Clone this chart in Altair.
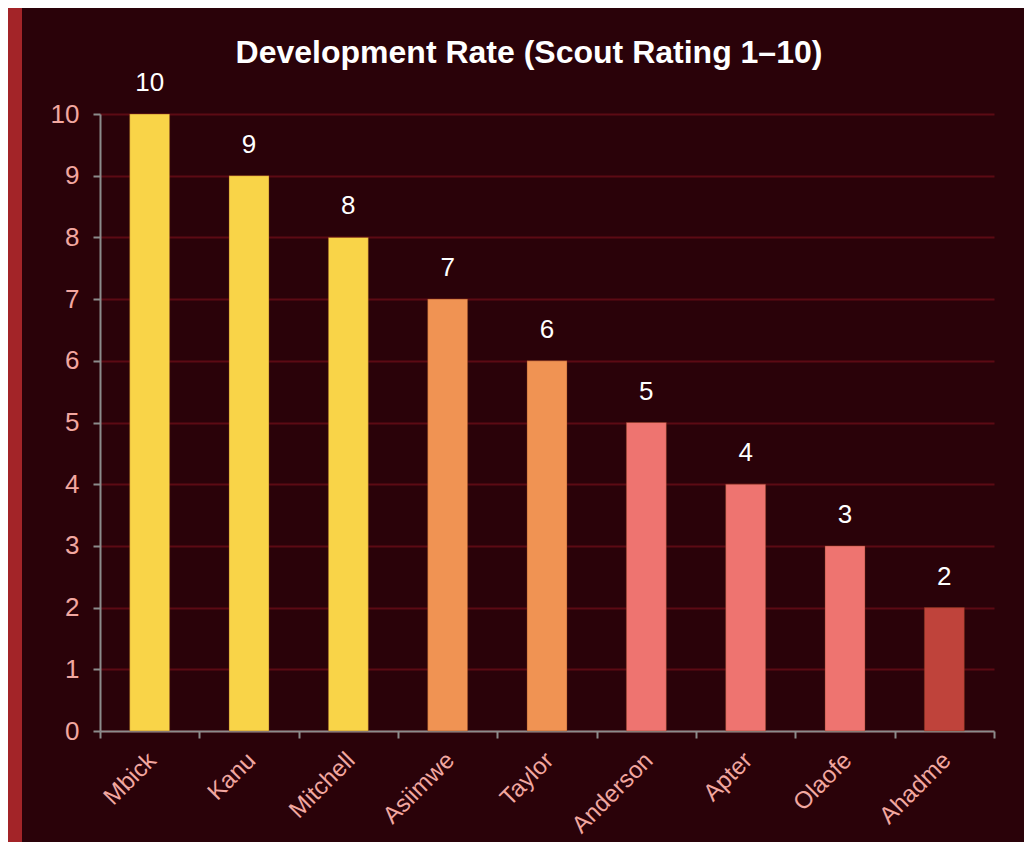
import altair as alt
import pandas as pd

players = ["Mbick", "Kanu", "Mitchell", "Asiimwe", "Taylor", "Anderson", "Apter", "Olaofe", "Ahadme"]
ratings = [10, 9, 8, 7, 6, 5, 4, 3, 2]
colors = ["#f9d448", "#f9d448", "#f9d448", "#f09353", "#f09353", "#ee7470", "#ee7470", "#ee7470", "#bf433b"]
y_ticks = [0, 1, 2, 3, 4, 5, 6, 7, 8, 9, 10]

df = pd.DataFrame({"player": players, "rating": ratings, "color": colors})

BG = "#2a0209"
RED = "#a32428"
GRID = "#5c0a14"
AXIS = "#8c8c8c"
LABEL = "#f2a7a0"
FONT = "Liberation Sans"

W, H = 894, 617

band = alt.Chart(pd.DataFrame({"k": [0]})).mark_rect(color=RED).encode(
    x=alt.value(-100), x2=alt.value(-78), y=alt.value(-106), y2=alt.value(728)
)

x_enc = alt.X(
    "player:N", sort=players, title=None,
    scale=alt.Scale(paddingInner=0, paddingOuter=0),
    axis=alt.Axis(
        labelAngle=-45, labelColor=LABEL, labelFont=FONT, labelFontSize=24,
        labelAlign="right", labelBaseline="top", labelPadding=10, labelOffset=-6,
        domainColor=AXIS, domainWidth=2, tickColor=AXIS, tickWidth=2, tickSize=7,
        tickBand="extent", grid=False,
    ),
)
y_enc = alt.Y(
    "rating:Q", title=None,
    scale=alt.Scale(domain=[0, 10], nice=False),
    axis=alt.Axis(
        values=y_ticks, format="d", labelColor=LABEL, labelFont=FONT, labelFontSize=26,
        labelPadding=14, domainColor=AXIS, domainWidth=2, tickColor=AXIS,
        tickWidth=2, tickSize=7, gridColor=GRID, gridWidth=2,
    ),
)

bars = alt.Chart(df).mark_bar(size=40, stroke="#7a3a1a", strokeWidth=0.8, strokeOpacity=0.5).encode(
    x=x_enc, y=y_enc, color=alt.Color("color:N", scale=None)
)

labels = alt.Chart(df).mark_text(
    color="white", font=FONT, fontSize=26, baseline="bottom", dy=-18
).encode(x=alt.X("player:N", sort=players), y=alt.Y("rating:Q"), text="rating:Q")

chart = alt.layer(band, bars, labels).properties(
    width=W, height=H,
    title=alt.TitleParams(
        "Development Rate (Scout Rating 1–10)", color="white", font=FONT,
        fontSize=32, fontWeight="bold", anchor="middle", dx=-18, offset=-62,
    ),
    background=BG,
    padding={"left": 92, "top": 106, "right": 30, "bottom": 111},
    autosize=alt.AutoSizeParams(type="none"),
).configure_view(stroke=None, clip=False)

chart.save("out.html", embed_options={"renderer": "svg", "actions": False})
